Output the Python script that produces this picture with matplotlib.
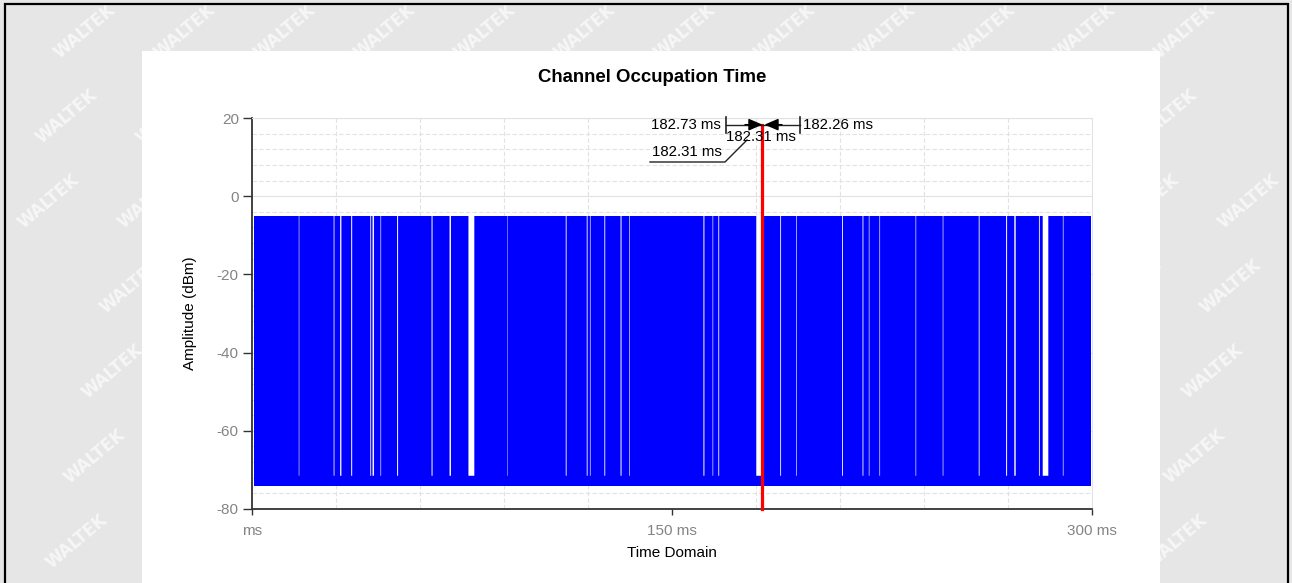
import matplotlib
matplotlib.use("Agg")
import matplotlib.pyplot as plt
from matplotlib.patches import Rectangle
from matplotlib.ticker import MultipleLocator

plt.rcParams['font.family'] = ['Liberation Sans', 'DejaVu Sans']
plt.rcParams['axes.unicode_minus'] = False

# ---------------- data ----------------
title = "Channel Occupation Time"
x_label = "Time Domain"
y_label = "Amplitude (dBm)"
x_ticks = [0, 150, 300]
x_tick_labels = ["ms", "150 ms", "300 ms"]
y_ticks = [-80, -60, -40, -20, 0, 20]

signal_start_ms = 0.6
signal_end_ms = 299.8
burst_top_dbm = -5.0
burst_bottom_dbm = -74.0
floor_top_dbm = -71.5

# gaps (no transmission) in the burst train: centre and width in ms
gap_center_ms = [16.8, 29.3, 31.7, 35.6, 42.4, 43.3, 46.0, 52.0, 64.3, 70.8,
                 78.35, 91.2, 112.2, 119.7, 120.8, 126.0, 131.8, 134.8,
                 161.4, 164.6, 166.7, 181.45, 188.8, 194.4, 210.9, 218.2,
                 220.4, 224.2, 237.1, 246.8, 259.7, 269.5, 272.5, 281.2,
                 283.4, 289.7]
gap_width_ms = [0.2, 0.28, 0.45, 0.35, 0.3, 0.5, 0.22, 0.35, 0.35, 0.5,
                2.1, 0.15, 0.3, 0.3, 0.22, 0.3, 0.35, 0.22,
                0.35, 0.22, 0.3, 2.7, 0.3, 0.22, 0.3, 0.3,
                0.22, 0.22, 0.22, 0.22, 0.3, 0.35, 0.5, 0.3,
                2.0, 0.22]

marker_ms = 182.31
marker_label = "182.31 ms"
left_label = "182.73 ms"
right_label = "182.26 ms"
center_label = "182.31 ms"

# ---------------- figure ----------------
W, H = 1292, 583
fig = plt.figure(figsize=(W / 100, H / 100), dpi=100)
fig.patch.set_facecolor('#e6e6e6')

def fx(px):
    return px / W

def fy(py):
    return 1 - py / H

# watermarks
ox, oy = 85, 31
a_vec = (100, 0)
b_vec = (-18, 85)
for i in range(-6, 20):
    for j in range(-2, 9):
        px = ox + i * a_vec[0] + j * b_vec[0]
        py = oy + i * a_vec[1] + j * b_vec[1]
        if 34 < px < W - 34 and 28 < py < H - 28:
            fig.text(fx(px), fy(py), "WALTEK", rotation=40, color='white',
                     fontsize=12, fontweight='bold', ha='center', va='center',
                     alpha=0.65, zorder=1, family='DejaVu Sans')

# white panel
fig.patches.append(Rectangle((fx(142), fy(590)), fx(1160) - fx(142), fy(51) - fy(590),
                             transform=fig.transFigure, facecolor='white',
                             edgecolor='none', zorder=2))
# outer border
fig.patches.append(Rectangle((fx(5), fy(600)), fx(1288) - fx(5), fy(4) - fy(600),
                             transform=fig.transFigure, facecolor='none',
                             edgecolor='black', linewidth=1.6, zorder=3))

fig.text(fx(652), fy(78), title, ha='center', va='center', fontsize=13.4,
         fontweight='bold', zorder=5)

# ---------------- axes ----------------
ax_l, ax_r, ax_t, ax_b = 252, 1092, 118, 509
ax = fig.add_axes([fx(ax_l), fy(ax_b), fx(ax_r) - fx(ax_l), fy(ax_t) - fy(ax_b)])
ax.set_zorder(10)
ax.set_facecolor('white')
ax.set_xlim(0, 300)
ax.set_ylim(-80, 20)

grid_c = '#e2e2e2'
ax.set_xticks(x_ticks)
ax.set_xticklabels(x_tick_labels)
ax.xaxis.set_minor_locator(MultipleLocator(30))
ax.set_yticks(y_ticks)
ax.yaxis.set_minor_locator(MultipleLocator(4))
ax.tick_params(axis='x', which='major', length=4.5, width=1, color='#333333',
               labelsize=11, labelcolor='#848484', pad=6)
ax.tick_params(axis='y', which='major', length=6.5, width=1, color='#333333',
               labelsize=11, labelcolor='#848484', pad=3)
ax.tick_params(which='minor', length=0)
ax.grid(which='minor', axis='x', color=grid_c, linestyle=(0, (4, 2)), linewidth=0.8)
ax.grid(which='major', axis='y', color=grid_c, linestyle='-', linewidth=0.8)
ax.grid(which='minor', axis='y', color=grid_c, linestyle=(0, (4, 2)), linewidth=0.8)
ax.set_axisbelow(True)

for s in ['left', 'bottom']:
    ax.spines[s].set_color('#333333')
    ax.spines[s].set_linewidth(1.3)
for s in ['top', 'right']:
    ax.spines[s].set_color(grid_c)
    ax.spines[s].set_linewidth(0.8)

ax.set_xlabel(x_label, fontsize=11, va='center')
ax.xaxis.set_label_coords(0.5, -(553 - ax_b) / (ax_b - ax_t))
ax.set_ylabel(y_label, fontsize=11, va='center')
ax.yaxis.set_label_coords(-(ax_l - 190) / (ax_r - ax_l), 0.5)

# full burst band
ax.bar([signal_start_ms], [burst_top_dbm - burst_bottom_dbm],
       width=[signal_end_ms - signal_start_ms], bottom=burst_bottom_dbm,
       align='edge', color='#0000ff', linewidth=0, zorder=2)

# gaps: only the noise floor remains
g_left = [c - w / 2 for c, w in zip(gap_center_ms, gap_width_ms)]
gap_bars = ax.bar(g_left, [burst_top_dbm + 0.3 - floor_top_dbm] * len(g_left),
                  width=gap_width_ms, bottom=floor_top_dbm, align='edge',
                  color='white', linewidth=0, zorder=3)
for p in gap_bars:
    p.set_snap(False)

# marker
tip_y = 18.3
ax.plot([marker_ms, marker_ms], [-80, tip_y], color='#ff0000', lw=2.3, zorder=4,
        clip_on=False)

# annotation (positions in pixel layout converted to data)
def dx(px):
    return (px - ax_l) * 300 / (ax_r - ax_l)

def dy(py):
    return 20 - (py - ax_t) * 100 / (ax_b - ax_t)

ann_c = '#222222'
ax.plot([dx(726), dx(800)], [tip_y, tip_y], color=ann_c, lw=1, zorder=5, clip_on=False)
for bx in (726, 800):
    ax.plot([dx(bx), dx(bx)], [dy(117), dy(133)], color=ann_c, lw=1.2, zorder=5,
            clip_on=False)
arrow_style = '-|>,head_length=0.65,head_width=0.28'
ax.annotate('', xy=(marker_ms, tip_y), xytext=(dx(745), tip_y),
            arrowprops=dict(arrowstyle=arrow_style, color='black', lw=1,
                            mutation_scale=13, shrinkA=0, shrinkB=0),
            zorder=6, annotation_clip=False)
ax.annotate('', xy=(dx(764.5), tip_y), xytext=(dx(782), tip_y),
            arrowprops=dict(arrowstyle=arrow_style, color='black', lw=1,
                            mutation_scale=13, shrinkA=0, shrinkB=0),
            zorder=6, annotation_clip=False)
ax.text(dx(721), dy(125), left_label, ha='right', va='center', fontsize=10.8,
        zorder=6, clip_on=False)
ax.text(dx(803), dy(125), right_label, ha='left', va='center', fontsize=10.8,
        zorder=6, clip_on=False)
ax.text(dx(761), dy(137), center_label, ha='center', va='center', fontsize=10.8,
        zorder=6, clip_on=False)
ax.text(dx(652), dy(152), marker_label, ha='left', va='center', fontsize=10.8,
        zorder=6, clip_on=False)
ax.plot([dx(650), dx(725), dx(747)], [dy(162), dy(162), dy(140)], color=ann_c,
        lw=1, zorder=5, clip_on=False)

fig.savefig('out.png', dpi=100, facecolor=fig.get_facecolor())
